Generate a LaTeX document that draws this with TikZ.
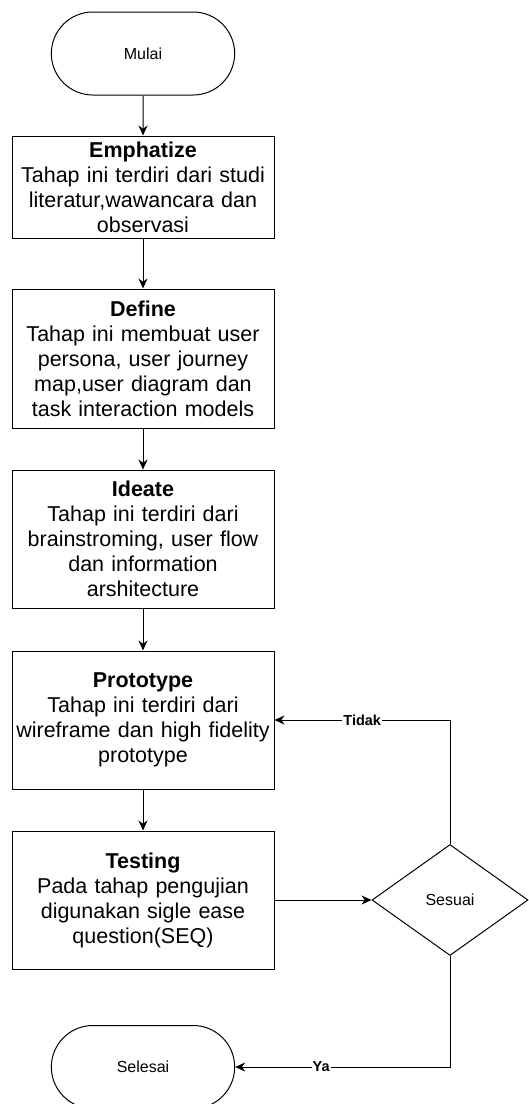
\documentclass[tikz,border=0pt]{standalone}
\usepackage{fontspec}
\setmainfont{Liberation Sans}
\usepackage{tikz}
\usetikzlibrary{arrows.meta, shapes.geometric, shapes.misc}
\tikzset{
    stage/.style={draw, line width=1pt, minimum width=262pt, text width=258pt, inner sep=2pt, align=center, font=\fontsize{21.5}{25}\selectfont},
    terminal/.style={draw, line width=1pt, rounded rectangle, minimum width=190pt, minimum height=83pt, font=\fontsize{16}{19}\selectfont},
    decision/.style={draw, line width=1pt, diamond, minimum width=156pt, minimum height=111pt, inner sep=0pt, font=\fontsize{16}{19}\selectfont},
    flow/.style={-{Stealth[length=10pt, width=9pt]}, line width=1pt},
    answer/.style={fill=white, inner sep=1pt, font=\bfseries\fontsize{14.5}{17}\selectfont}
}

\begin{document}
\begin{tikzpicture}[x=1pt, y=-1pt]
    \useasboundingbox (0,0) rectangle (528,1104);
    % Start and end
    \node[terminal] (mulai) at (143,53.5) {Mulai};
    \node[terminal] (selesai) at (143,1067) {Selesai};
    % Design thinking stages
    \node[stage, minimum height=102pt] (emph) at (143,187)
        {\textbf{Emphatize}\\Tahap ini terdiri dari studi\\literatur,wawancara dan\\observasi};
    \node[stage, minimum height=139pt] (define) at (143,358.5)
        {\textbf{Define}\\Tahap ini membuat user\\persona, user journey\\map,user diagram dan\\task interaction models};
    \node[stage, minimum height=138pt] (ideate) at (143,539)
        {\textbf{Ideate}\\Tahap ini terdiri dari\\brainstroming, user flow\\dan information\\arshitecture};
    \node[stage, minimum height=138pt] (proto) at (143,720)
        {\textbf{Prototype}\\Tahap ini terdiri dari\\wireframe dan high fidelity\\prototype};
    \node[stage, minimum height=138pt] (test) at (143,900)
        {\textbf{Testing}\\Pada tahap pengujian\\digunakan sigle ease\\question(SEQ)};
    % Decision
    \node[decision] (sesuai) at (450,900) {Sesuai};
    %
    \draw[flow] (mulai) -- (emph);
    \draw[flow] (emph) -- (define);
    \draw[flow] (define) -- (ideate);
    \draw[flow] (ideate) -- (proto);
    \draw[flow] (proto) -- (test);
    \draw[flow] (test) -- (sesuai);
    % Loop back or finish
    \draw[flow] (sesuai.north) |- node[answer, pos=0.75] {Tidak} (proto.east);
    \draw[flow] (sesuai.south) |- node[answer, pos=0.8] {Ya} (selesai.east);
\end{tikzpicture}
\end{document}
